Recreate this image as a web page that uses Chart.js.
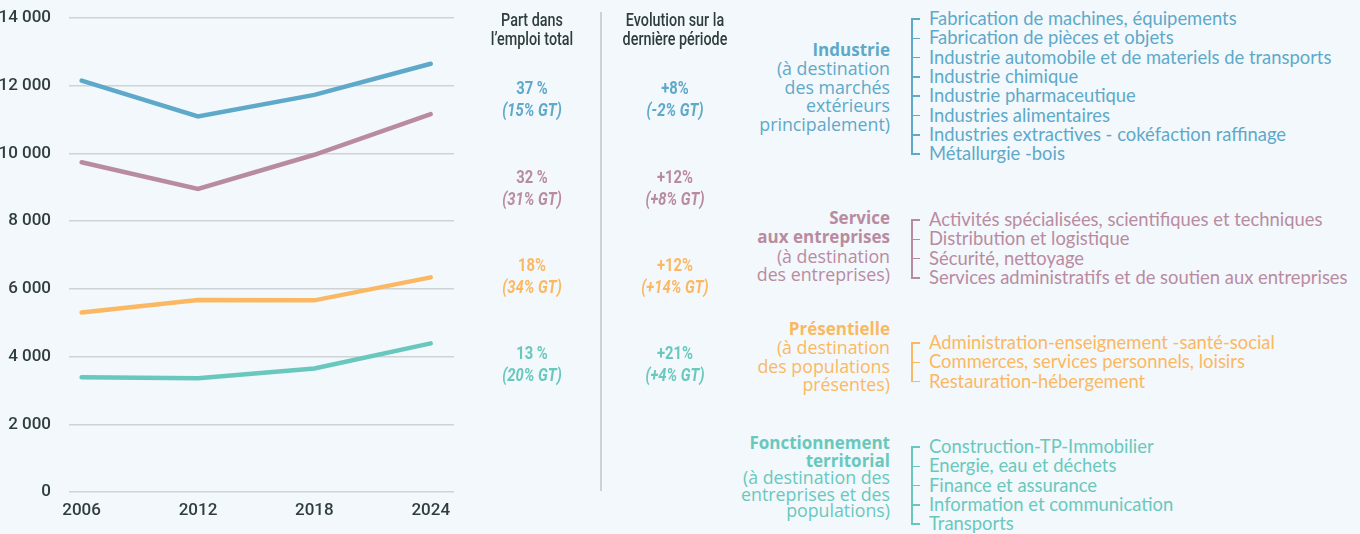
<!DOCTYPE html>
<html lang="fr">
<head>
<meta charset="utf-8">
<script src="https://cdn.jsdelivr.net/npm/chart.js@4.4.1/dist/chart.umd.min.js"></script>
<style>
  body { margin: 0; background: #f3f8fc; }
  #tela { position: relative; width: 1360px; height: 534px; overflow: hidden; }
  .abs { position: absolute; }
  .entete { font-family: Roboto, sans-serif; font-size: 17.5px; line-height: 19px; font-weight: 500; color: #2f3d3c; text-align: center; width: 160px; transform: scaleX(0.82); }
  .valeur { font-family: Roboto, sans-serif; font-size: 18.5px; line-height: 22px; font-weight: 700; text-align: center; width: 160px; transform: scaleX(0.8); }
  .valeur i { font-weight: 700; }
  .secteur { font-family: "Open Sans", sans-serif; font-size: 17.8px; text-align: right; right: 470px; white-space: nowrap; }
  .secteur b { font-weight: 700; font-size: 17px; }
  .liste { font-family: Lato, sans-serif; font-size: 18.4px; left: 929px; white-space: nowrap; }
  .trait { background: currentColor; }
</style>
</head>
<body>
<div id="tela">
  <div class="abs" style="left:0;top:0;width:470px;height:534px"><canvas id="chartEmploi" width="470" height="534"></canvas></div>
  <div class="abs" style="left:600px;top:12px;width:2px;height:479px;background:#cfd2d4"></div>
  <div id="textes"></div>
</div>
<script>
// données
let annees = [2006, 2012, 2018, 2024];
let industrie = [12150, 11090, 11730, 12650];
let serviceEntreprises = [9740, 8950, 9960, 11160];
let presentielle = [5305, 5670, 5660, 6340];
let fonctionnement = [3390, 3360, 3650, 4390];
let graduationsY = [0, 2000, 4000, 6000, 8000, 10000, 12000, 14000];

let couleurs = ["#5ea9c9", "#b98ba1", "#fbb862", "#69c8bd"];

let partEmploi = ["37 %", "32 %", "18%", "13 %"];
let partEmploiGT = ["(15% GT)", "(31% GT)", "(34% GT)", "(20% GT)"];
let evolution = ["+8%", "+12%", "+12%", "+21%"];
let evolutionGT = ["(-2% GT)", "(+8% GT)", "(+14% GT)", "(+4% GT)"];

let titresSecteurs = [
  ["Industrie"],
  ["Service", "aux entreprises"],
  ["Présentielle"],
  ["Fonctionnement", "territorial"]
];
let sousTitresSecteurs = [
  ["(à destination", "des marchés", "extérieurs", "principalement)"],
  ["(à destination", "des entreprises)"],
  ["(à destination", "des populations", "présentes)"],
  ["(à destination des", "entreprises et des", "populations)"]
];
let activites = [
  ["Fabrication de machines, équipements", "Fabrication de pièces et objets", "Industrie automobile et de materiels de transports", "Industrie chimique", "Industrie pharmaceutique", "Industries alimentaires", "Industries extractives - cokéfaction raffinage", "Métallurgie -bois"],
  ["Activités spécialisées, scientifiques et techniques", "Distribution et logistique", "Sécurité, nettoyage", "Services administratifs et de soutien aux entreprises"],
  ["Administration-enseignement -santé-social", "Commerces, services personnels, loisirs", "Restauration-hébergement"],
  ["Construction-TP-Immobilier", "Energie, eau et déchets", "Finance et assurance", "Information et communication", "Transports"]
];

// mise en page des textes
let topValeurs = [77, 166, 254, 342];
let blocSecteurs = [
  { top: 40, lh: 18.4 },
  { top: 208, lh: 18.4 },
  { top: 319, lh: 18.4 },
  { top: 434, lh: 16.5 }
];
let debutListes = [19, 220, 343, 447];
let pasListe = 19.3;

function formatMilliers(v) {
  return String(v).replace(/\B(?=(\d{3})+(?!\d))/g, " ");
}

function dessinerTextes() {
  let html = "";
  html += `<div class="abs entete" style="left:452px;top:11px">Part dans<br>l’emploi total</div>`;
  html += `<div class="abs entete" style="left:595px;top:11px">Evolution sur la<br>dernière période</div>`;

  couleurs.forEach((couleur, i) => {
    html += `<div class="abs valeur" style="left:452px;top:${topValeurs[i]}px;color:${couleur}">${partEmploi[i]}<br><i>${partEmploiGT[i]}</i></div>`;
    html += `<div class="abs valeur" style="left:595px;top:${topValeurs[i]}px;color:${couleur}">${evolution[i]}<br><i>${evolutionGT[i]}</i></div>`;

    let lignes = titresSecteurs[i].map((t) => `<b>${t}</b>`).concat(sousTitresSecteurs[i]);
    html += `<div class="abs secteur" style="top:${blocSecteurs[i].top}px;line-height:${blocSecteurs[i].lh}px;color:${couleur}">${lignes.join("<br>")}</div>`;

    let y0 = debutListes[i];
    let n = activites[i].length;
    activites[i].forEach((a, k) => {
      let y = y0 + k * pasListe;
      html += `<div class="abs liste" style="top:${y - 11}px;line-height:20px;color:${couleur}">${a}</div>`;
      html += `<div class="abs trait" style="left:911px;top:${y - 0.75}px;width:9px;height:1.5px;color:${couleur}"></div>`;
    });
    html += `<div class="abs trait" style="left:911px;top:${y0 - 0.75}px;width:1.5px;height:${(n - 1) * pasListe + 1.5}px;color:${couleur}"></div>`;
  });
  document.getElementById("textes").innerHTML = html;
}

function serie(valeurs, couleur) {
  return {
    data: valeurs.map((v, i) => ({ x: annees[i], y: v })),
    borderColor: couleur,
    borderWidth: 4.5,
    borderCapStyle: "round",
    pointRadius: 0,
    tension: 0,
    fill: false
  };
}

let policeAxes = { family: "Roboto, sans-serif", size: 17, weight: "500" };

let config = {
  type: "line",
  data: {
    datasets: [
      serie(industrie, couleurs[0]),
      serie(serviceEntreprises, couleurs[1]),
      serie(presentielle, couleurs[2]),
      serie(fonctionnement, couleurs[3])
    ]
  },
  options: {
    responsive: false,
    animation: false,
    layout: { padding: { top: 18, right: 16, bottom: 0, left: 0 } },
    plugins: { legend: { display: false }, tooltip: { enabled: false } },
    scales: {
      x: {
        type: "linear",
        min: 2005.35,
        max: 2025.2,
        afterBuildTicks: (scale) => { scale.ticks = annees.map((a) => ({ value: a })); },
        afterFit: (scale) => { scale.height = 42; },
        grid: { display: false },
        border: { display: false },
        ticks: { font: policeAxes, color: "#2f3d3c", padding: 1, maxRotation: 0, callback: (v) => String(v) }
      },
      y: {
        min: 0,
        max: 14000,
        afterBuildTicks: (scale) => { scale.ticks = graduationsY.map((g) => ({ value: g })); },
        afterFit: (scale) => { scale.width = 69; },
        // le décalage des étiquettes passe par des traits invisibles
        grid: { color: "#d0d3d5", lineWidth: 1.5, drawTicks: true, tickLength: 18, tickColor: "rgba(0,0,0,0)" },
        border: { display: false },
        ticks: { font: policeAxes, color: "#2f3d3c", padding: 0, callback: (v) => formatMilliers(v) }
      }
    }
  }
};

dessinerTextes();
new Chart(document.getElementById("chartEmploi"), config);
</script>
</body>
</html>
